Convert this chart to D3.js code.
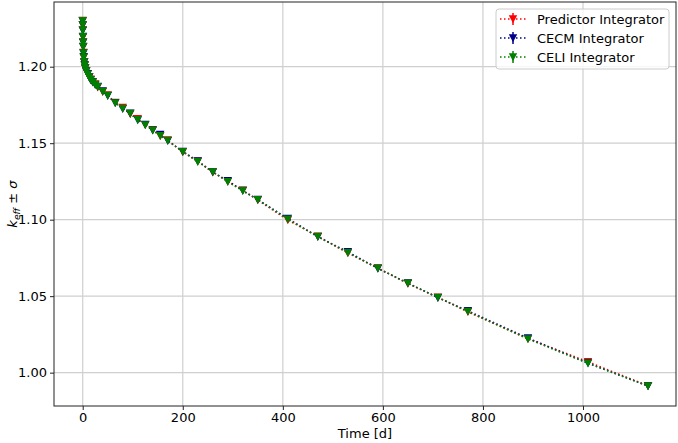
<!DOCTYPE html>
<html>
<head>
<meta charset="utf-8">
<script src="https://cdn.jsdelivr.net/npm/d3@7"></script>
<style>
  body{margin:0;background:#fff}
  text{font-family:"DejaVu Sans",sans-serif}
</style>
</head>
<body>
<svg id="chart" width="678" height="443"></svg>
<script>
// burnup time steps [d]
const time=[0,0.1,0.25,0.5,0.75,1,1.5,2,3,4,5,7,10,13,16,20,25,30,40,50,65,80,95,110,125,140,155,170,200,230,260,290,320,350,410,470,530,590,650,710,770,890,1010,1130]
const kPredictor=[1.2301,1.2270,1.2240,1.2193,1.2162,1.2128,1.2092,1.2060,1.2031,1.2010,1.1988,1.1974,1.1953,1.1930,1.1917,1.1898,1.1887,1.1866,1.1836,1.1814,1.1765,1.1733,1.1691,1.1660,1.1621,1.1587,1.1547,1.1520,1.1442,1.1381,1.1310,1.1250,1.1192,1.1128,1.0998,1.0891,1.0782,1.0684,1.0582,1.0493,1.0397,1.0222,1.0071,0.9914]
const kCecm=[1.2299,1.2273,1.2236,1.2197,1.2158,1.2132,1.2088,1.2064,1.2029,1.2011,1.1991,1.1970,1.1954,1.1933,1.1913,1.1902,1.1882,1.1870,1.1841,1.1810,1.1764,1.1725,1.1696,1.1651,1.1622,1.1585,1.1556,1.1515,1.1446,1.1384,1.1311,1.1254,1.1190,1.1131,1.1008,1.0888,1.0790,1.0681,1.0586,1.0490,1.0404,1.0226,1.0062,0.9912]
const kCeli=[1.2300,1.2272,1.2238,1.2195,1.2160,1.2130,1.2090,1.2062,1.2030,1.2008,1.1990,1.1972,1.1950,1.1932,1.1915,1.1900,1.1884,1.1868,1.1838,1.1812,1.1762,1.1727,1.1693,1.1653,1.1619,1.1584,1.1549,1.1517,1.1444,1.1379,1.1312,1.1248,1.1188,1.1130,1.1003,1.0889,1.0784,1.0682,1.0584,1.0491,1.0399,1.0220,1.0061,0.9913]

const seriesNames=['Predictor Integrator','CECM Integrator','CELI Integrator']
const seriesColors=['red','#00008b','green']
const xTicks=[0,200,400,600,800,1000]
const yTicks=[1.00,1.05,1.10,1.15,1.20]

const series=[kPredictor,kCecm,kCeli].map((k,i)=>({
  name:seriesNames[i],
  color:seriesColors[i],
  values:time.map((t,j)=>({t,k:k[j]}))
}))

const svg=d3.select('#chart')
const plotL=54,plotR=676,plotT=2,plotB=406
const fs=13

const x=d3.scaleLinear().domain([-57.4,1185.9]).range([plotL,plotR])
const y=d3.scaleLinear().domain([0.9782,1.2423]).range([plotB,plotT])

// grid
const grid=svg.append('g')
grid.selectAll('.gx').data(xTicks).join('line')
  .attr('x1',d=>x(d)).attr('x2',d=>x(d)).attr('y1',plotT).attr('y2',plotB)
  .attr('stroke','#cfcfcf').attr('stroke-width',1.2)
grid.selectAll('.gy').data(yTicks).join('line')
  .attr('y1',d=>y(d)).attr('y2',d=>y(d)).attr('x1',plotL).attr('x2',plotR)
  .attr('stroke','#cfcfcf').attr('stroke-width',1.2)

// axes
const xAxis=svg.append('g').attr('transform',`translate(0,${plotB})`)
  .call(d3.axisBottom(x).tickValues(xTicks).tickSize(4).tickPadding(3).tickFormat(d3.format('d')))
const yAxis=svg.append('g').attr('transform',`translate(${plotL},0)`)
  .call(d3.axisLeft(y).tickValues(yTicks).tickSize(4).tickPadding(3).tickFormat(d3.format('.2f')))
;[xAxis,yAxis].forEach(a=>{
  a.select('.domain').remove()
  a.selectAll('line').attr('stroke','#222').attr('stroke-width',1)
  a.selectAll('text').attr('font-size',fs).attr('fill','#000').attr('font-family','DejaVu Sans')
})

// lines and markers
const line=d3.line().x(d=>x(d.t)).y(d=>y(d.k))
const tri=d3.symbol().type({draw(ctx){ctx.moveTo(-4.2,-3.8);ctx.lineTo(4.2,-3.8);ctx.lineTo(0,4.2);ctx.closePath()}})
series.forEach(s=>{
  svg.append('path').datum(s.values)
    .attr('fill','none').attr('stroke',s.color).attr('stroke-width',1.5)
    .attr('stroke-dasharray','1.5 2.5').attr('d',line)
})
series.forEach(s=>{
  svg.append('g').selectAll('path').data(s.values).join('path')
    .attr('transform',d=>`translate(${x(d.t)},${y(d.k)})`)
    .attr('d',tri()).attr('fill',s.color)
})

// frame
svg.append('rect').attr('x',plotL).attr('y',plotT).attr('width',plotR-plotL).attr('height',plotB-plotT)
  .attr('fill','none').attr('stroke','#222').attr('stroke-width',1)

// labels
svg.append('text').attr('x',(plotL+plotR)/2).attr('y',438).attr('text-anchor','middle')
  .attr('font-size',fs).text('Time [d]')
const yl=svg.append('text').attr('transform',`translate(17,${(plotT+plotB)/2}) rotate(-90)`)
  .attr('text-anchor','middle').attr('font-size',fs)
yl.append('tspan').attr('font-style','italic').text('k')
yl.append('tspan').attr('font-style','italic').attr('font-size',9.2).attr('dy',2.6).text('eff')
yl.append('tspan').attr('dy',-2.6).text(' ± ')
yl.append('tspan').attr('font-style','italic').text('σ')

// legend
const lg=svg.append('g')
lg.append('rect').attr('x',496).attr('y',9).attr('width',173).attr('height',60).attr('rx',3)
  .attr('fill','#fff').attr('fill-opacity',0.8).attr('stroke','#ccc').attr('stroke-width',1)
series.forEach((s,i)=>{
  const cy=19+i*19
  lg.append('line').attr('x1',500).attr('x2',526).attr('y1',cy).attr('y2',cy)
    .attr('stroke',s.color).attr('stroke-width',1.5).attr('stroke-dasharray','1.5 2.5')
  lg.append('line').attr('x1',513).attr('x2',513).attr('y1',cy-6).attr('y2',cy+6)
    .attr('stroke',s.color).attr('stroke-width',1.5)
  lg.append('path').attr('transform',`translate(513,${cy})`).attr('d',tri()).attr('fill',s.color)
  lg.append('text').attr('x',537).attr('y',cy+4.7).attr('font-size',fs).text(s.name)
})
</script>
</body>
</html>
